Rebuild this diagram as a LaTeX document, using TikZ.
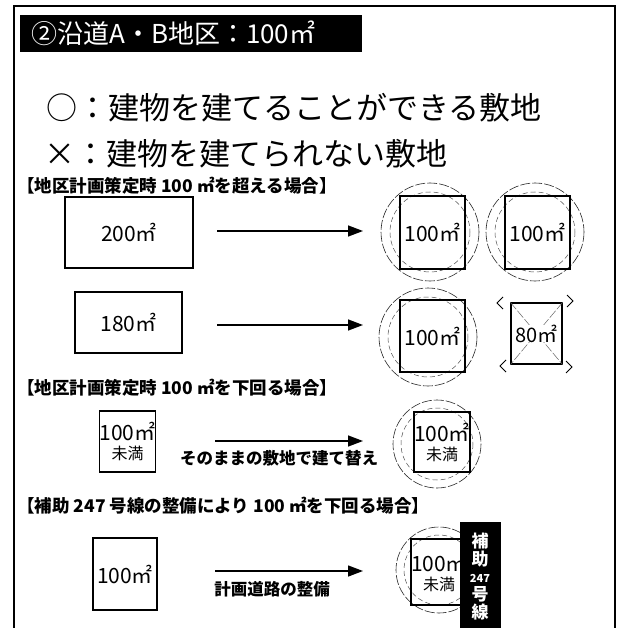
\documentclass[tikz,border=0pt]{standalone}
\usepackage{fontspec}
\setmainfont{Noto Sans CJK JP}
\usetikzlibrary{arrows.meta}
\tikzset{
  frameline/.style={line width=1.4pt},
  lot/.style={draw, line width=1.3pt, inner sep=0pt, font=\fontsize{21}{23}\selectfont},
  ring/.style={line width=0.6pt, dash pattern=on 10pt off 2pt, black!85},
  iring/.style={line width=0.5pt, dash pattern=on 5pt off 3pt, black!70},
  flow/.style={line width=1.4pt, -{Triangle[length=15pt,width=11pt]}},
  head/.style={anchor=west, inner sep=0pt, font=\fontsize{17.5}{19}\selectfont\bfseries},
  legend/.style={anchor=west, inner sep=0pt, font=\fontsize{31}{33}\selectfont},
  lbl/.style={inner sep=0pt, font=\fontsize{16.5}{18}\selectfont\bfseries},
  cornermark/.style={line width=0.9pt}
}
\begin{document}
\begin{tikzpicture}[x=1pt,y=-1pt]
\useasboundingbox (0,0) rectangle (621,628);
\fill[white] (0,0) rectangle (621,628);
% frame
\draw[frameline] (14,628) -- (14,6) -- (615,6) -- (615,628);
% title
\node[fill=black, anchor=north west, minimum width=342pt, minimum height=37pt, inner sep=0pt] (title) at (20,15) {};
\node[text=white, anchor=west, inner sep=0pt, font=\fontsize{26}{28}\selectfont] (titletxt) at (31,33.5) {②沿道A・B地区：100㎡};
% legend
\node[legend] (leg1) at (46,108) {○：建物を建てることができる敷地};
\node[legend] (leg2) at (44,154) {×：建物を建てられない敷地};
% headings
\node[head] (h1) at (17,186) {【地区計画策定時 100 ㎡を超える場合】};
\node[head] (h2) at (17,388) {【地区計画策定時 100 ㎡を下回る場合】};
\node[head] (h3) at (17,506) {【補助 247 号線の整備により 100 ㎡を下回る場合】};
% left lots
\node[lot, minimum width=128pt, minimum height=71pt] (b1) at (129,232.5) {200㎡};
\node[lot, minimum width=107pt, minimum height=61pt] (b2) at (128.5,322.5) {180㎡};
\node[lot, minimum width=55pt, minimum height=61pt, align=center] (b3) at (127.5,441.5)
  {100㎡\\[-4pt]{\fontsize{16}{17}\selectfont 未満}};
\node[lot, minimum width=64pt, minimum height=72pt] (b4) at (125,574) {100㎡};
% arrows
\coordinate (a1s) at (217,231); \coordinate (a1e) at (363,231);
\coordinate (a2s) at (217,325); \coordinate (a2e) at (363,325);
\coordinate (a3s) at (215,441); \coordinate (a3e) at (363,441);
\coordinate (a4s) at (215,571); \coordinate (a4e) at (363,571);
\draw[flow] (a1s) -- (a1e);
\draw[flow] (a2s) -- (a2e);
\draw[flow] (a3s) -- (a3e);
\draw[flow] (a4s) -- (a4e);
\node[lbl] (l3) at (279,458) {そのままの敷地で建て替え};
\node[lbl] (l4) at (272,589) {計画道路の整備};
% circles (OK marks)
\coordinate (c1) at (430,232);
\coordinate (c2) at (535,232);
\coordinate (c3) at (428,337);
\coordinate (c4) at (437,444);
\coordinate (c5) at (439,570);
\draw[ring] (c1) circle (49); \draw[iring] (c1) circle (40);
\draw[ring] (c2) circle (49); \draw[iring] (c2) circle (40);
\draw[ring] (c3) circle (49); \draw[iring] (c3) circle (40);
\draw[ring] (c4) circle (44); \draw[iring] (c4) circle (36);
\draw[ring] (c5) circle (43); \draw[iring] (c5) circle (35);
% right lots
\node[lot, minimum width=65pt, minimum height=73pt] (s1) at (432.5,232.5) {100㎡};
\node[lot, minimum width=65pt, minimum height=73pt] (s2) at (537.5,232.5) {100㎡};
\node[lot, minimum width=65pt, minimum height=72pt] (s3) at (432.5,336) {100㎡};
\node[lot, minimum width=51pt, minimum height=61pt] (sx) at (536.5,333.5) {};
\draw[line width=0.5pt, black!60, dash pattern=on 9pt off 2pt] (sx.north west) -- (sx.south east);
\draw[line width=0.5pt, black!60, dash pattern=on 9pt off 2pt] (sx.north east) -- (sx.south west);
\node[inner sep=0pt, fill=white, font=\fontsize{20}{22}\selectfont] (sxt) at (sx.center) {80㎡};
\node[lot, minimum width=54pt, minimum height=60pt, align=center] (s4) at (442,442)
  {100㎡\\[-4pt]{\fontsize{16}{17}\selectfont 未満}};
\node[lot, minimum width=52pt, minimum height=66pt, align=center] (s5) at (439,572)
  {100㎡\\[-4pt]{\fontsize{16}{17}\selectfont 未満}};
% X corner marks
\draw[cornermark] (503,297) -- (497,303) -- (503,309);
\draw[cornermark] (567,295) -- (573,301) -- (567,307);
\draw[cornermark] (506,360) -- (500,366) -- (506,372);
\draw[cornermark] (566,361) -- (572,367) -- (566,373);
% road
\node[fill=black, draw=black, line width=1pt, anchor=north west, minimum width=40pt, minimum height=106pt, inner sep=0pt] (road) at (460,522) {};
\node[text=white, inner sep=0pt, align=center, font=\fontsize{17}{19}\selectfont\bfseries] (roadtxt) at (480,577)
  {補\\[-1pt]助\\[-2pt]{\fontsize{11}{12}\selectfont 247}\\[-1pt]号\\[-1pt]線};
\end{tikzpicture}
\end{document}
